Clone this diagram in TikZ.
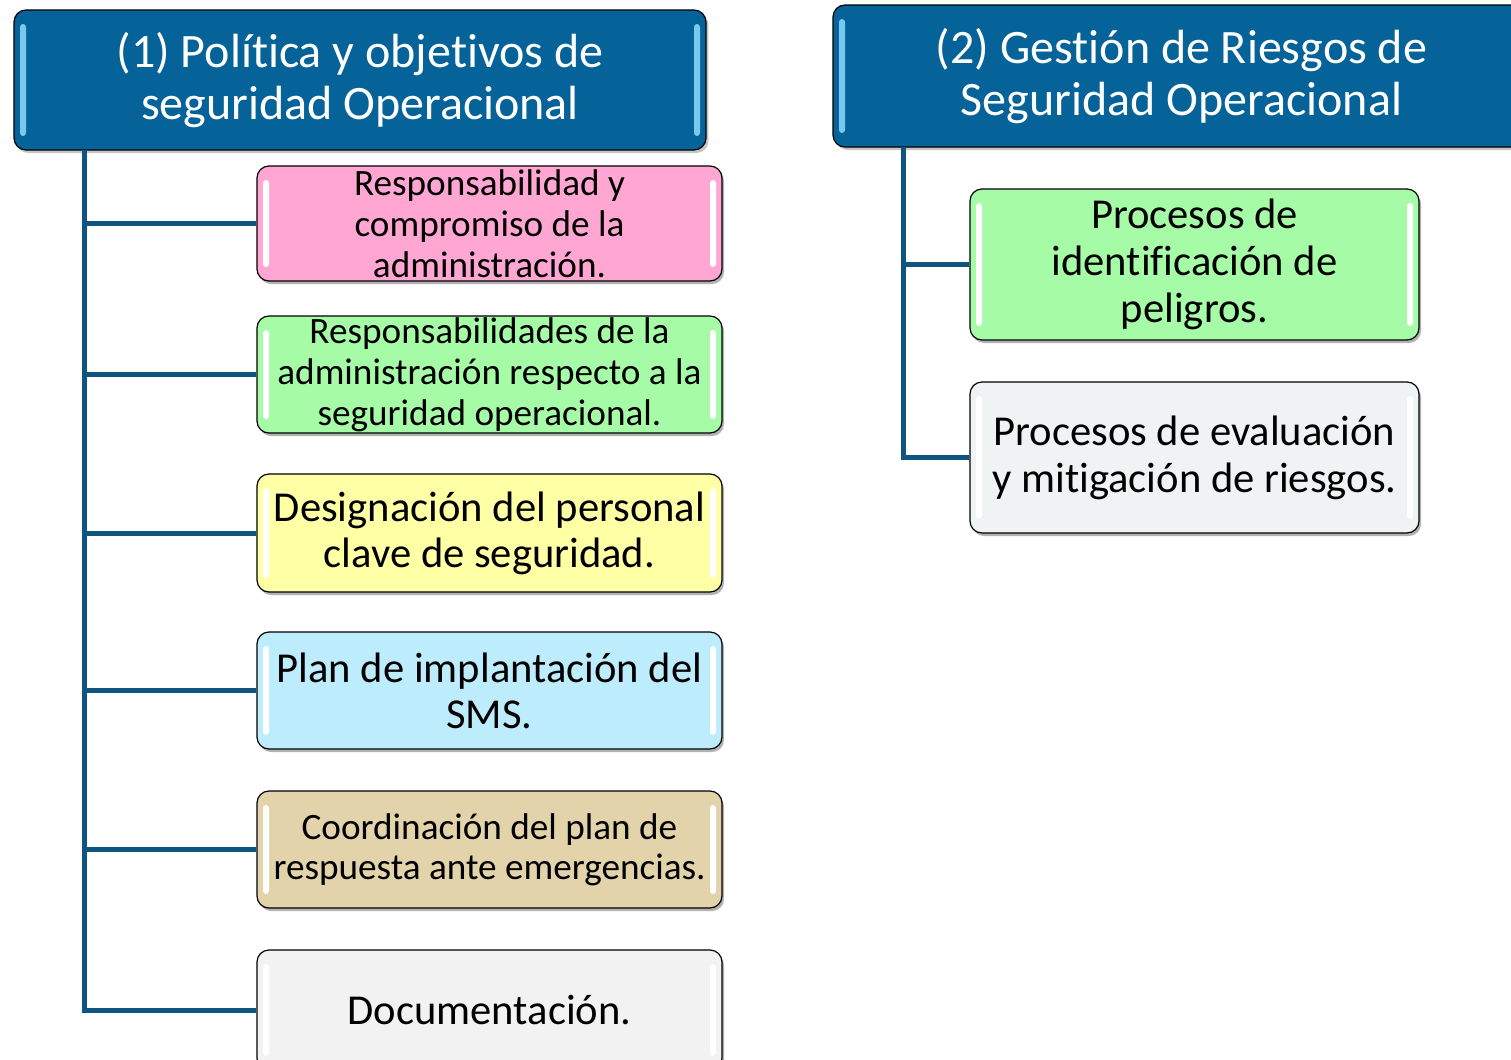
\documentclass[tikz,border=0pt]{standalone}
\usepackage{fontspec}
\setmainfont[Ligatures={NoCommon}]{Carlito}
\usetikzlibrary{shadows}
\definecolor{hdrblue}{RGB}{5,99,153}
\definecolor{hilite}{RGB}{120,200,240}
\definecolor{connblue}{RGB}{16,84,128}
\definecolor{cpink}{RGB}{255,166,210}
\definecolor{cgreen}{RGB}{166,251,166}
\definecolor{cyellow}{RGB}{255,255,166}
\definecolor{cblue}{RGB}{189,236,252}
\definecolor{ctan}{RGB}{226,211,171}
\definecolor{cgreyA}{RGB}{242,242,242}
\definecolor{cgreyB}{RGB}{240,243,243}
\tikzset{
  glossy/.style={
    path picture={
      \fill[#1, rounded corners=1.5pt]
        ([xshift=3pt,yshift=-7pt]path picture bounding box.north west) rectangle
        ([xshift=6pt,yshift=7pt]path picture bounding box.south west);
      \fill[#1, rounded corners=1.5pt]
        ([xshift=-6pt,yshift=-7pt]path picture bounding box.north east) rectangle
        ([xshift=-3pt,yshift=7pt]path picture bounding box.south east);
    }},
  hdr/.style={draw=black, line width=0.6pt, fill=hdrblue, rounded corners=6pt,
    text=white, align=center, inner sep=0pt,
    font=\fontsize{24}{26}\selectfont,
    drop shadow={shadow xshift=1.2pt, shadow yshift=-1.5pt, opacity=0.45},
    glossy=hilite},
  item/.style={draw=black, line width=0.6pt, fill=#1, rounded corners=6pt,
    text=black, align=center, inner sep=0pt,
    drop shadow={shadow xshift=1pt, shadow yshift=-1.5pt, opacity=0.6},
    glossy=white},
  conn/.style={draw=connblue, line width=2.5pt},
}
\begin{document}
\begin{tikzpicture}[x=0.5pt, y=-0.5pt]
\useasboundingbox (0,0) rectangle (1511,1060);
\clip (0,0) rectangle (1511,1060);
\fill[white] (0,0) rectangle (1511,1060);

\coordinate (t1) at (84,150);
\coordinate (t2) at (903,147);

% headers
\node[hdr, minimum width=346pt, minimum height=70pt] (h1) at (360,80)
  {(1) Política y objetivos de\\seguridad Operacional};
\node[hdr, minimum width=348.5pt, minimum height=71pt] (h2) at (1181.5,76)
  {(2) Gestión de Riesgos de\\Seguridad Operacional};

% left items
\node[item=cpink, minimum width=232.5pt, minimum height=57.5pt,
  font=\fontsize{18.6}{20.5}\selectfont] (b1) at (489.5,223.5)
  {Responsabilidad y\\compromiso de la\\administración.};
\node[item=cgreen, minimum width=232.5pt, minimum height=58.5pt,
  font=\fontsize{18.6}{20.5}\selectfont] (b2) at (489.5,374.5)
  {Responsabilidades de la\\administración respecto a la\\seguridad operacional.};
\node[item=cyellow, minimum width=232.5pt, minimum height=59pt,
  font=\fontsize{21.3}{23}\selectfont] (b3) at (489.5,533)
  {Designación del personal\\clave de seguridad.};
\node[item=cblue, minimum width=232.5pt, minimum height=58.5pt,
  font=\fontsize{21.3}{23}\selectfont] (b4) at (489.5,690.5)
  {Plan de implantación del\\SMS.};
\node[item=ctan, minimum width=232.5pt, minimum height=58.5pt,
  font=\fontsize{18.6}{20}\selectfont] (b5) at (489.5,849.5)
  {Coordinación del plan de\\respuesta ante emergencias.};
\node[item=cgreyA, minimum width=232.5pt, minimum height=60pt,
  font=\fontsize{21.3}{23}\selectfont] (b6) at (489.5,1010)
  {Documentación.};

% right items
\node[item=cgreen, minimum width=224.5pt, minimum height=75.5pt,
  font=\fontsize{21.3}{23.5}\selectfont] (r1) at (1194.5,264.5)
  {Procesos de\\identificación de\\peligros.};
\node[item=cgreyB, minimum width=224.5pt, minimum height=75.5pt,
  font=\fontsize{21.3}{23.5}\selectfont] (r2) at (1194.5,457.5)
  {Procesos de evaluación\\y mitigación de riesgos.};

% connectors
\draw[conn] (t1) |- (b6.west);
\foreach \b in {b1,b2,b3,b4,b5}
  \draw[conn] (t1 |- \b.west) -- (\b.west);
\draw[conn] (t2) |- (r2.west);
\draw[conn] (t2 |- r1.west) -- (r1.west);
\end{tikzpicture}
\end{document}
